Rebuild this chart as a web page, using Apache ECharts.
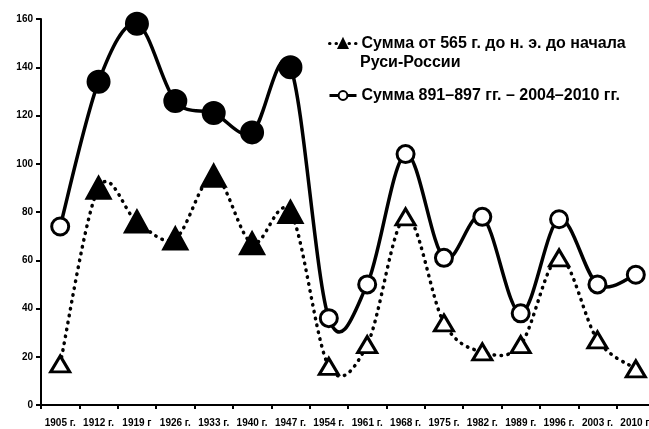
<!DOCTYPE html>
<html>
<head>
<meta charset="utf-8">
<script src="https://cdn.jsdelivr.net/npm/echarts@6/dist/echarts.min.js"></script>
<style>
  html, body { margin: 0; padding: 0; background: #fff; }
  #chart { width: 649px; height: 429px; }
</style>
</head>
<body>
<div id="chart"></div>
<script>
// categories (every 7 years)
var years = ['1905 г.', '1912 г.', '1919 г', '1926 г.', '1933 г.', '1940 г.', '1947 г.', '1954 г.',
  '1961 г.', '1968 г.', '1975 г.', '1982 г.', '1989 г.', '1996 г.', '2003 г.', '2010 г.']
// series values
var sumAncient = [17, 90, 76, 69, 95, 67, 80, 16, 25, 78, 34, 22, 25, 61, 27, 15]
var sumModern = [74, 134, 158, 126, 121, 113, 140, 36, 50, 104, 61, 78, 38, 77, 50, 54]
// which points are drawn as filled markers
var filled = [false, true, true, true, true, true, true, false, false, false, false, false, false, false, false, false]
var yTicks = [0, 20, 40, 60, 80, 100, 120, 140, 160]

var nameAncient = 'Сумма от 565 г. до н. э. до начала\nРуси-России'
var nameModern = 'Сумма 891–897 гг. – 2004–2010 гг.'
var font = 'Liberation Sans, Arial, sans-serif'

var chart = echarts.init(document.getElementById('chart'))

var triData = sumAncient.map(function (v, i) {
  return filled[i]
    ? { value: v, symbolSize: [23, 21], itemStyle: { color: '#000', borderColor: '#000', borderWidth: 3 } }
    : { value: v, symbolSize: [19, 16], itemStyle: { color: '#fff', borderColor: '#000', borderWidth: 3 } }
})
var circData = sumModern.map(function (v, i) {
  return filled[i]
    ? { value: v, symbolSize: 21, itemStyle: { color: '#000', borderColor: '#000', borderWidth: 3 } }
    : { value: v, symbolSize: 17, itemStyle: { color: '#fff', borderColor: '#000', borderWidth: 3 } }
})

// Excel-like smoothed curve (Catmull-Rom → bezier) through the axis coordinates
function splinePath (api, values) {
  var pts = values.map(function (v, i) { return api.coord([i, v]) })
  var t = 1 / 6
  var d = 'M' + pts[0][0] + ' ' + pts[0][1]
  for (var i = 0; i < pts.length - 1; i++) {
    var p0 = pts[i - 1] || pts[i]
    var p1 = pts[i]
    var p2 = pts[i + 1]
    var p3 = pts[i + 2] || pts[i + 1]
    d += ' C' + (p1[0] + (p2[0] - p0[0]) * t) + ' ' + (p1[1] + (p2[1] - p0[1]) * t) +
      ' ' + (p2[0] - (p3[0] - p1[0]) * t) + ' ' + (p2[1] - (p3[1] - p1[1]) * t) +
      ' ' + p2[0] + ' ' + p2[1]
  }
  return d
}

function curveSeries (values, dash, z) {
  return {
    type: 'custom',
    silent: true,
    z: z,
    data: values.map(function (v, i) { return [i, v] }),
    renderItem: function (params, api) {
      if (params.dataIndex !== 0) return
      return {
        type: 'path',
        shape: { pathData: splinePath(api, values) },
        style: { fill: 'none', stroke: '#000', lineWidth: 3.5, lineDash: dash, lineCap: 'round', lineJoin: 'round' }
      }
    }
  }
}

var legendText = { fontFamily: font, fontWeight: 'bold', fontSize: 16, color: '#000', lineHeight: 19 }

var option = {
  animation: false,
  grid: { left: 41, top: 19, width: 614, bottom: 24, containLabel: false, outerBoundsMode: 'none' },
  legend: [{
    left: 323, top: 29, orient: 'vertical',
    itemWidth: 27, itemHeight: 11,
    data: [{ name: nameAncient, lineStyle: { color: '#000', width: 3, type: [0.5, 6], cap: 'round', opacity: 1 } }],
    formatter: function (name) { return name.split('\n')[0] },
    textStyle: legendText
  }, {
    left: 323, top: 81, orient: 'vertical',
    itemWidth: 27, itemHeight: 11,
    data: [{ name: nameModern, lineStyle: { color: '#000', width: 3, type: 'solid', opacity: 1 } }],
    textStyle: legendText
  }],
  graphic: [{
    type: 'text', left: 360, top: 55,
    style: { text: nameAncient.split('\n')[1], fill: '#000', font: 'bold 16px ' + font }
  }],
  xAxis: {
    type: 'category',
    data: years,
    boundaryGap: true,
    axisLine: { lineStyle: { color: '#000', width: 2 } },
    axisTick: { show: true, length: 4, lineStyle: { color: '#000', width: 2 } },
    axisLabel: { interval: 0, margin: 13, color: '#000', fontFamily: font, fontWeight: 'bold', fontSize: 10 },
    splitLine: { show: false }
  },
  yAxis: {
    type: 'value',
    min: yTicks[0],
    max: yTicks[yTicks.length - 1],
    interval: 20,
    axisLine: { show: true, lineStyle: { color: '#000', width: 2 } },
    axisTick: { show: true, length: 5, lineStyle: { color: '#000', width: 2 } },
    axisLabel: { margin: 8, color: '#000', fontFamily: font, fontWeight: 'bold', fontSize: 10 },
    splitLine: { show: false }
  },
  series: [
    curveSeries(sumAncient, [0.5, 6.5], 1),
    curveSeries(sumModern, null, 1),
    {
      name: nameAncient,
      type: 'line',
      symbol: 'triangle',
      showAllSymbol: true,
      lineStyle: { color: '#000', width: 3, opacity: 0 },
      itemStyle: { color: '#000', borderColor: '#000', borderWidth: 2 },
      data: triData,
      z: 3
    }, {
      name: nameModern,
      type: 'line',
      symbol: 'circle',
      showAllSymbol: true,
      lineStyle: { color: '#000', width: 3, opacity: 0 },
      itemStyle: { color: '#fff', borderColor: '#000', borderWidth: 2 },
      data: circData,
      z: 4
    }
  ]
}

chart.setOption(option)
</script>
</body>
</html>
